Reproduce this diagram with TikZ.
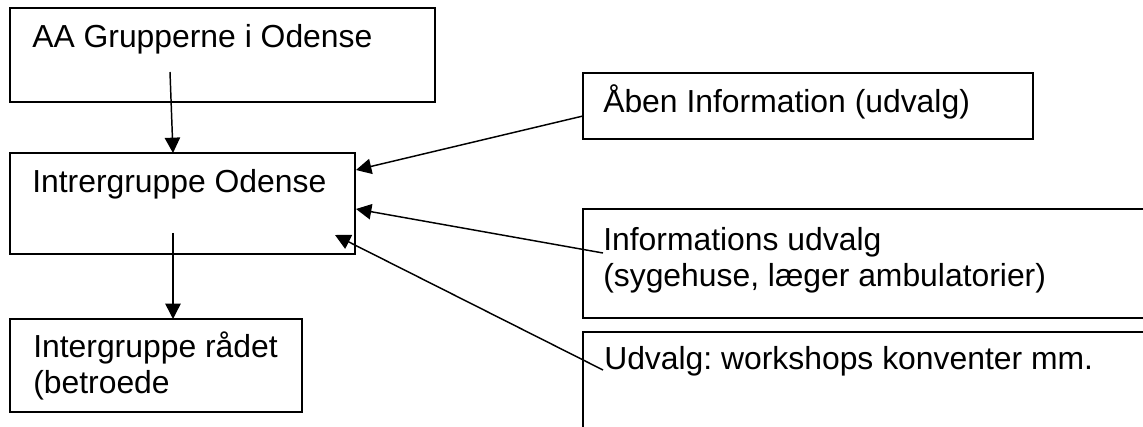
\documentclass[tikz,border=0pt]{standalone}
\usepackage{fontspec}
\setmainfont{Liberation Sans}
\usetikzlibrary{arrows.meta,fit}
\frenchspacing
\begin{document}
\begin{tikzpicture}[x=0.75pt,y=-0.75pt,
  box/.style={draw,line width=1.1pt,inner sep=0pt,rectangle},
  txt/.style={anchor=base west,inner sep=0pt,font=\fontsize{23.9}{27}\selectfont\frenchspacing,align=left},
  arr/.style={line width=1.1pt,-{Triangle[length=11.5pt,width=11.5pt]}}]
\useasboundingbox[fill=white] (0,0) rectangle (1143,427);
\clip (0,0) rectangle (1143,427);
% boxes
\node[box,fit={(10,8) (435,102)}] (b1) {};
\node[box,fit={(10,153) (355,254)}] (b2) {};
\node[box,fit={(10,319) (302,412)}] (b3) {};
\node[box,fit={(583,73) (1033,139)}] (b4) {};
\node[box,fit={(583,209) (1160,318)}] (b5) {};
\node[box,fit={(583,332) (1160,450)}] (b6) {};
% texts
\node[txt] (t1) at (32,48) {AA Grupperne i Odense};
\node[txt] (t2) at (32,193) {Intrergruppe Odense};
\node[txt] (t3) at (33,394) {Intergruppe rådet\\(betroede};
\node[txt] (t4) at (603,113) {Åben Information (udvalg)};
\node[txt] (t5) at (603,287) {Informations udvalg\\(sygehuse, læger ambulatorier)};
\node[txt] (t6) at (604,370) {Udvalg: workshops konventer mm.};
% connector ends
\coordinate (s1) at (170,72);
\coordinate (e1) at (173,153);
\coordinate (s2) at (173,233);
\coordinate (e2) at (173,319);
\coordinate (s3) at (583,116);
\coordinate (e3) at (356,170);
\coordinate (s4) at (603,253);
\coordinate (e4) at (356,209);
\coordinate (s5) at (603,370);
\coordinate (e5) at (335,235);
% connectors
\draw[arr] (s1) -- (e1);
\draw[arr] (s2) -- (e2);
\draw[arr] (s3) -- (e3);
\draw[arr] (s4) -- (e4);
\draw[arr] (s5) -- (e5);
\end{tikzpicture}
\end{document}
